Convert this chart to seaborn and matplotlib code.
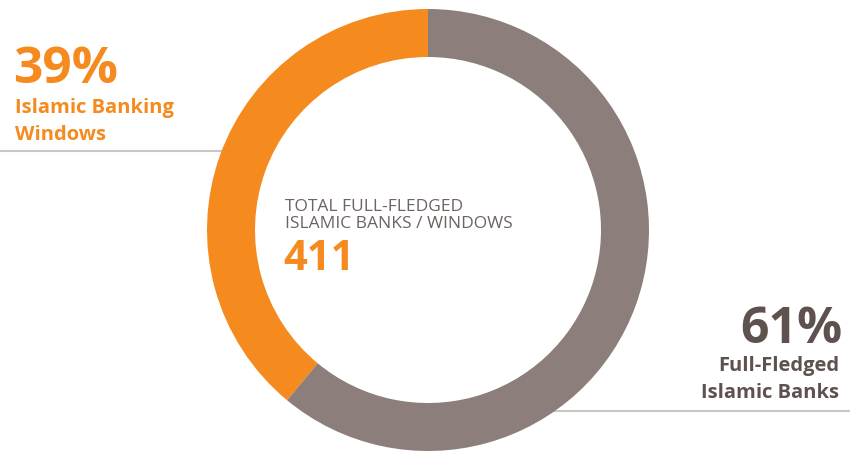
import matplotlib
matplotlib.use("Agg")
import matplotlib.pyplot as plt
import seaborn as sns

# data
labels = ["Islamic Banking\nWindows", "Full-Fledged\nIslamic Banks"]
shares = [39, 61]
total = 411
center_title = "TOTAL FULL-FLEDGED\nISLAMIC BANKS / WINDOWS"

orange = "#F58A1F"
gray = "#8C7E7A"
dark = "#5E524F"

sns.set_theme(style="white")
plt.rcParams["font.family"] = ["Open Sans", "DejaVu Sans"]

fig = plt.figure(figsize=(8.5, 4.51), dpi=100)
ax = fig.add_axes([0, 0, 1, 1])

# pixel-like coordinates: x 0..850, y 0..451 (y up)
ax.pie(shares, colors=[orange, gray], startangle=90, counterclock=True,
       radius=221, center=(428, 221),
       wedgeprops=dict(width=48, linewidth=0), frame=False)

# leader lines (ends hidden under the ring)
ax.plot([0, 240], [300, 300], color="#CBC6C4", lw=1.5, zorder=0)
ax.plot([540, 850], [40, 40], color="#CBC6C4", lw=1.5, zorder=0)

ax.set_xlim(0, 850)
ax.set_ylim(0, 451)
ax.set_aspect("auto")
ax.axis("off")

# left label
ax.text(13, 368, f"{shares[0]}%", color=orange, fontsize=37, fontweight="bold",
        ha="left", va="baseline")
ax.text(15, 311, labels[0], color=orange, fontsize=14.5, fontweight="bold",
        ha="left", va="baseline", linespacing=1.5)

# right label
ax.text(842, 108, f"{shares[1]}%", color=dark, fontsize=36, fontweight="bold",
        ha="right", va="baseline")
ax.text(839, 53, labels[1], color=dark, fontsize=14.5, fontweight="bold",
        ha="right", va="baseline", linespacing=1.5)

# center
ax.text(285, 223, center_title, color="#6D6360", fontsize=12.5,
        ha="left", va="baseline", linespacing=1.05)
ax.text(283, 181, str(total), color=orange, fontsize=30, fontweight="bold",
        ha="left", va="baseline")

fig.savefig("out.png", dpi=100)
